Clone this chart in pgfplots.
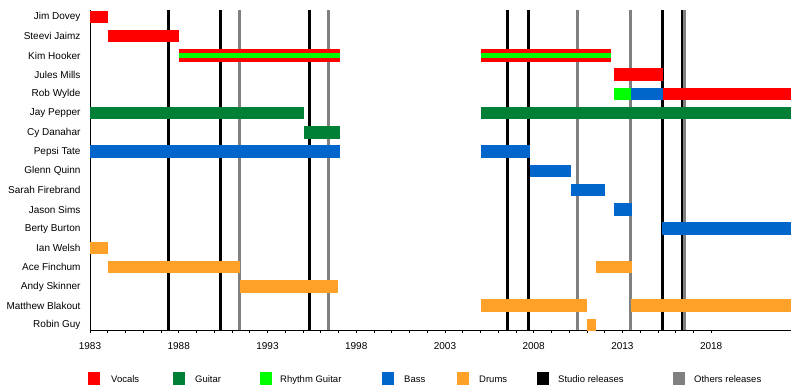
\documentclass[border=0pt]{standalone}
\usepackage{fontspec}
\setmainfont{Liberation Sans}
\usepackage{pgfplots}
\pgfplotsset{compat=1.18}
\definecolor{cvoc}{RGB}{255,0,0}
\definecolor{cgtr}{RGB}{0,128,55}
\definecolor{crhy}{RGB}{0,255,0}
\definecolor{cbass}{RGB}{0,102,204}
\definecolor{cdrm}{RGB}{255,160,40}
\definecolor{cothr}{RGB}{128,128,128}
\newcommand{\seg}[4]{\addplot[#1, line width=12.5pt, line cap=butt] coordinates {(#2,#4) (#3,#4)};}
\newcommand{\vl}[2]{\addplot[#1, line width=3pt, line cap=butt] coordinates {(#2,0.74) (#2,17.36)};}
\begin{document}
\begin{tikzpicture}
\useasboundingbox (0,0) rectangle (800pt,390pt);
\begin{axis}[
  at={(90pt,60pt)}, anchor=south west,
  scale only axis, width=701pt, height=320pt,
  xmin=1983, xmax=2022.5, ymin=0.74, ymax=17.36,
  axis x line*=bottom, axis y line*=left,
  axis line style={-, line width=0.9pt},
  xtick={1983,1988,...,2018}, minor x tick num=4,
  x tick label style={/pgf/number format/1000 sep={}, yshift=-6pt},
  y tick label style={xshift=-3pt},
  /pgf/number format/assume math mode=true,
  tick align=outside, major tick length=3pt, minor tick length=3pt,
  tick style={black, line width=0.8pt},
  ytick={1,...,17},
  yticklabels={Robin Guy, Matthew Blakout, Andy Skinner, Ace Finchum, Ian Welsh, Berty Burton, Jason Sims, Sarah Firebrand, Glenn Quinn, Pepsi Tate, Cy Danahar, Jay Pepper, Rob Wylde, Jules Mills, Kim Hooker, Steevi Jaimz, Jim Dovey},
  ytick style={draw=none},
  ticklabel style={font=\fontsize{10}{12}\selectfont},
  clip=false,
]
% studio releases
\vl{black}{1987.41}
\vl{black}{1990.38}
\vl{black}{1995.39}
\vl{black}{2006.51}
\vl{black}{2007.69}
\vl{black}{2015.24}
\vl{black}{2016.38}
% other releases
\vl{cothr}{1991.43}
\vl{cothr}{1996.45}
\vl{cothr}{2010.45}
\vl{cothr}{2013.48}
\vl{cothr}{2016.49}
% bars
\seg{cvoc}{1983}{1984}{17}
\seg{cvoc}{1984}{1988}{16}
\seg{cvoc}{1988}{1997.08}{15}
\seg{cvoc}{2005.05}{2012.35}{15}
\addplot[crhy, line width=4.5pt, line cap=butt] coordinates {(1988,15) (1997.08,15)};
\addplot[crhy, line width=4.5pt, line cap=butt] coordinates {(2005.05,15) (2012.35,15)};
\seg{cvoc}{2012.52}{2015.28}{14}
\seg{crhy}{2012.52}{2013.5}{13}
\seg{cbass}{2013.5}{2015.28}{13}
\seg{cvoc}{2015.28}{2022.5}{13}
\seg{cgtr}{1983}{1995.05}{12}
\seg{cgtr}{2005.05}{2022.5}{12}
\seg{cgtr}{1995.05}{1997.08}{11}
\seg{cbass}{1983}{1997.08}{10}
\seg{cbass}{2005.05}{2007.8}{10}
\seg{cbass}{2007.8}{2010.1}{9}
\seg{cbass}{2010.1}{2012.0}{8}
\seg{cbass}{2012.52}{2013.55}{7}
\seg{cbass}{2015.25}{2022.5}{6}
\seg{cdrm}{1983}{1984}{5}
\seg{cdrm}{1984}{1991.45}{4}
\seg{cdrm}{2011.5}{2013.55}{4}
\seg{cdrm}{1991.45}{1997.0}{3}
\seg{cdrm}{2005.05}{2011.0}{2}
\seg{cdrm}{2013.5}{2022.5}{2}
\seg{cdrm}{2011.0}{2011.5}{1}
\end{axis}
% legend
\begin{scope}[every node/.style={font=\fontsize{9.5}{11}\selectfont, anchor=base west, inner sep=0pt}]
\fill[cvoc] (88pt,5pt) rectangle ++(12pt,13pt);
\node at (111pt,7.5pt) {Vocals};
\fill[cgtr] (173pt,5pt) rectangle ++(12pt,13pt);
\node at (195pt,7.5pt) {Guitar};
\fill[crhy] (260pt,5pt) rectangle ++(12pt,13pt);
\node at (280pt,7.5pt) {Rhythm Guitar};
\fill[cbass] (382pt,5pt) rectangle ++(12pt,13pt);
\node at (404pt,7.5pt) {Bass};
\fill[cdrm] (457pt,5pt) rectangle ++(12pt,13pt);
\node at (479pt,7.5pt) {Drums};
\fill[black] (537pt,5pt) rectangle ++(12pt,13pt);
\node at (558pt,7.5pt) {Studio releases};
\fill[cothr] (673pt,5pt) rectangle ++(12pt,13pt);
\node at (694pt,7.5pt) {Others releases};
\end{scope}
\end{tikzpicture}
\end{document}
